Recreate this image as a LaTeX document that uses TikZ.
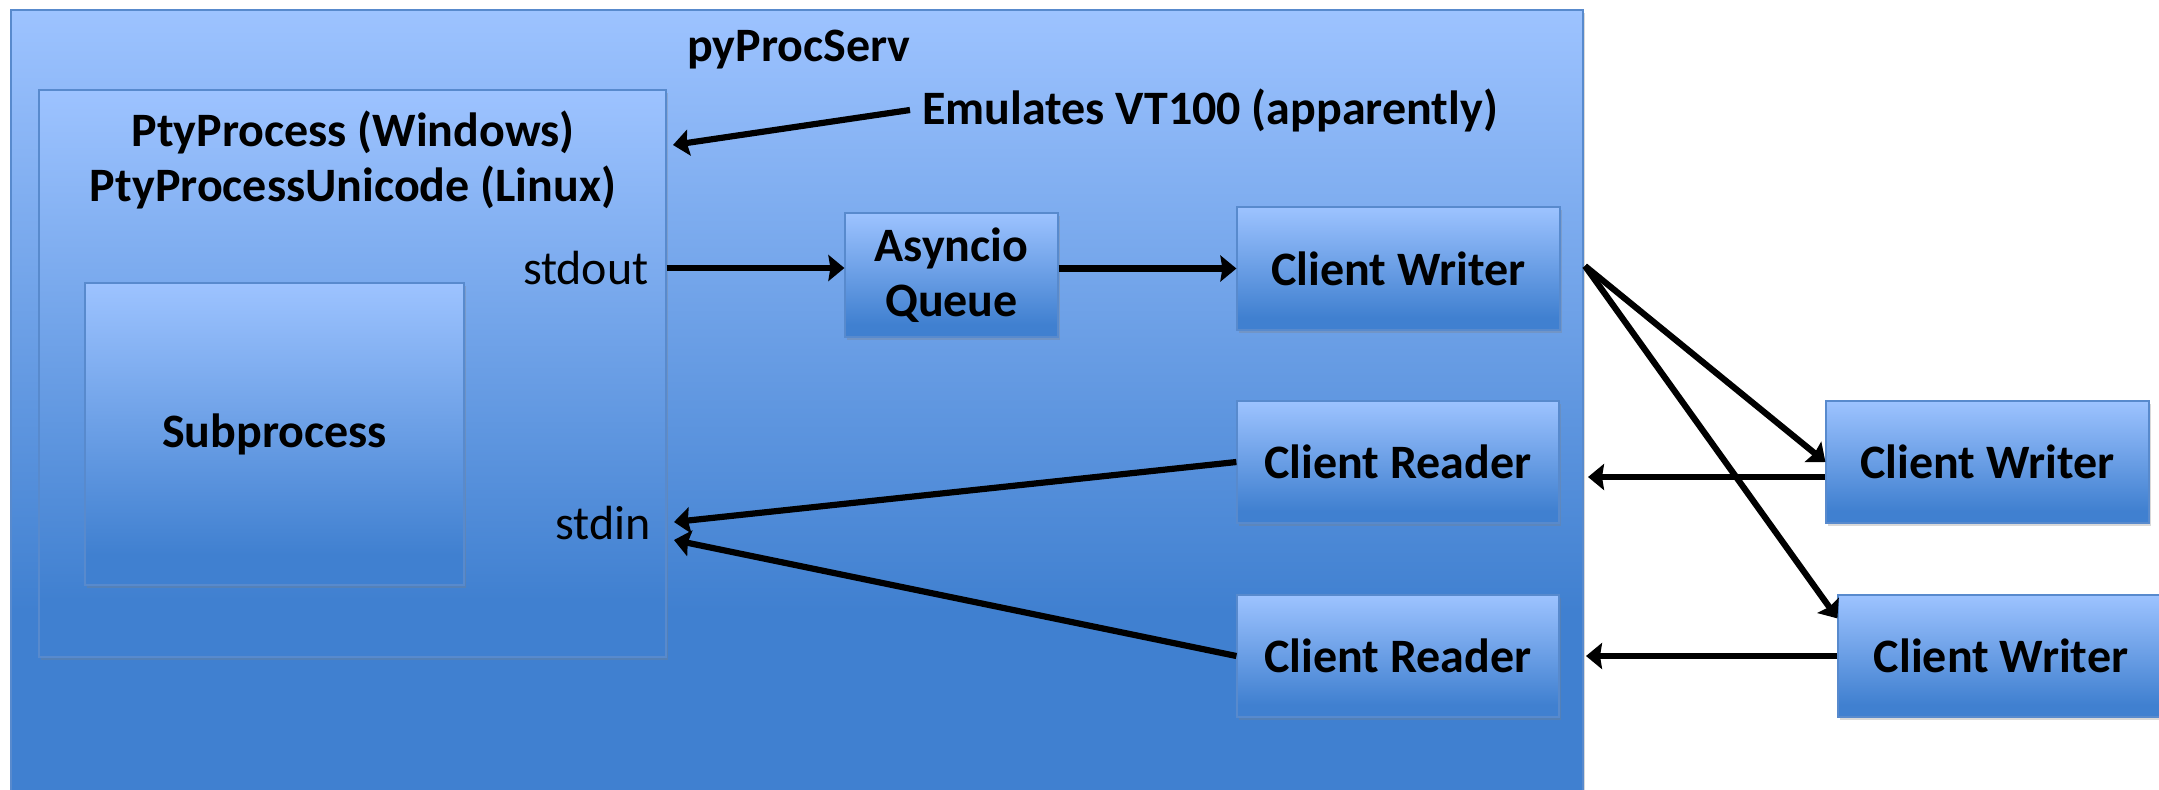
\documentclass[tikz,border=0pt]{standalone}
\usepackage{fontspec}
\setmainfont{Carlito}
\usetikzlibrary{arrows.meta,shadows}
\definecolor{ltb}{RGB}{157,195,255}
\definecolor{dkb}{RGB}{64,128,208}
\definecolor{edgeb}{RGB}{88,138,205}
\pgfdeclareverticalshading{boxgrad}{100bp}{color(0bp)=(dkb); color(30bp)=(dkb); color(75bp)=(ltb); color(100bp)=(ltb)}
\pgfdeclareverticalshading{outergrad}{100bp}{color(0bp)=(dkb); color(37bp)=(dkb); color(75bp)=(ltb); color(100bp)=(ltb)}
\tikzset{
  gbox/.style={draw=edgeb, line width=0.6pt, shade, shading=boxgrad,
    drop shadow={shadow xshift=0.8pt, shadow yshift=-1.5pt, opacity=0.3},
    font=\bfseries\fontsize{24}{27.5}\selectfont, align=center, inner sep=0pt},
  txt/.style={font=\fontsize{24}{27.5}\selectfont, align=center, inner sep=0pt},
  btxt/.style={txt, font=\bfseries\fontsize{24}{27.5}\selectfont},
  arr/.style={line width=3.1pt, -{Stealth[length=8pt,width=13pt,inset=1pt]}},
}
\begin{document}
\begin{tikzpicture}[x=0.5pt,y=-0.5pt]
\useasboundingbox (0,0) rectangle (2159,789);
\node[gbox, shading=outergrad, minimum width=786pt, minimum height=395pt] (outer) at (797,405) {};
\node[gbox, minimum width=313.5pt, minimum height=283.5pt] (pty) at (352.5,373.5) {};
\node[gbox, minimum width=189.5pt, minimum height=151pt] (sub) at (274.5,434) {Subprocess};
\node[gbox, minimum width=106.5pt, minimum height=62pt] (async) at (951.5,275) {Asyncio\\Queue};
\node[gbox, minimum width=161.5pt, minimum height=61.5pt] (cw) at (1398.5,268.5) {Client Writer};
\node[gbox, minimum width=161pt, minimum height=61pt] (cr1) at (1398,462) {Client Reader};
\node[gbox, minimum width=161pt, minimum height=61pt] (cr2) at (1398,656) {Client Reader};
\node[gbox, minimum width=161.5pt, minimum height=61pt] (rw1) at (1987.5,462) {Client Writer};
\node[gbox, minimum width=163pt, minimum height=61pt] (rw2) at (2001,656) {Client Writer};
\node[btxt] (title) at (799,50) {pyProcServ};
\node[btxt] (ptylabel) at (353,160) {PtyProcess (Windows)\\PtyProcessUnicode (Linux)};
\node[txt, anchor=east] (stdout) at (649,268) {stdout};
\node[txt, anchor=east] (stdin) at (651,523) {stdin};
\node[btxt, anchor=west] (emul) at (922,110) {Emulates VT100 (apparently)};
\coordinate (emultip) at (673,145);
\coordinate (fan) at (1585,266);
\coordinate (r1end) at (1588,477);
\coordinate (r2end) at (1586,656);
\coordinate (in1) at (674,522);
\coordinate (in2) at (674,540);
\draw[arr] ([xshift=-6pt]emul.west) -- (emultip);
\draw[arr] (stdout.east -| pty.east) -- (async.west |- stdout.east);
\draw[arr] (async.east |- cw.west) -- (cw.west);
\draw[arr] (fan) -- (rw1.west);
\draw[arr] (fan) -- ([yshift=-12pt]rw2.north west);
\draw[arr] (rw1.west |- r1end) -- (r1end);
\draw[arr] (rw2.west |- r2end) -- (r2end);
\draw[arr] (cr1.west) -- (in1);
\draw[arr] (cr2.west) -- (in2);
\end{tikzpicture}
\end{document}
